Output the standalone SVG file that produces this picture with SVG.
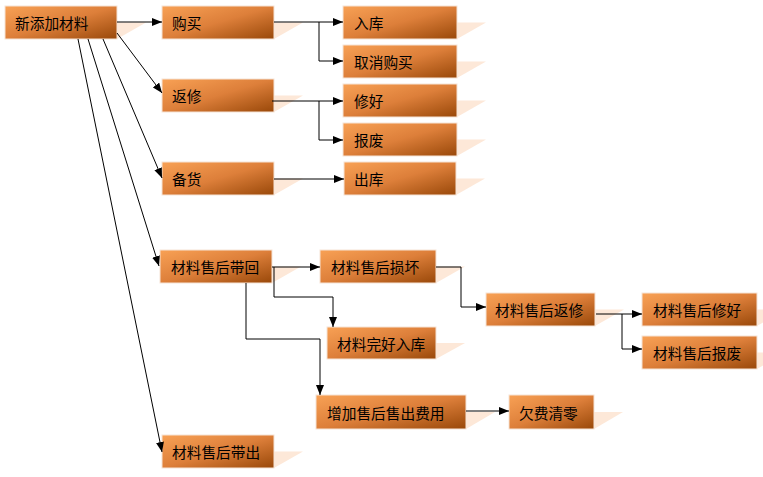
<svg xmlns="http://www.w3.org/2000/svg" width="763" height="477" viewBox="0 0 763 477">
<defs>
<linearGradient id="g" x1="0" y1="0" x2="1" y2="1">
<stop offset="0" stop-color="#F8A155"/>
<stop offset="0.5" stop-color="#DD7F3A"/>
<stop offset="1" stop-color="#994809"/>
</linearGradient>
<marker id="a" markerUnits="userSpaceOnUse" markerWidth="10" markerHeight="8" refX="10" refY="4" orient="auto">
<path d="M0,0 L10,4 L0,8 z" fill="#000"/>
</marker>
<style>
.b{fill:url(#g);stroke:#f6e4d6;stroke-width:1}
.s{fill:#fde8d8}
.t{font-family:"Noto Sans CJK SC","Liberation Sans",sans-serif;font-size:14.7px;fill:#000;dominant-baseline:central}
.c{fill:none;stroke:#000;stroke-width:1}
</style>
</defs>
<rect width="763" height="477" fill="#fff"/>
<g id="n1"><polygon class="s" points="34,22.5 146,22.5 117,39 5,39"/><rect class="b" x="5" y="6" width="112" height="33"/><text class="t" x="15" y="22.5">新添加材料</text></g>
<g id="n2"><polygon class="s" points="191,22.5 303,22.5 274,39 162,39"/><rect class="b" x="162" y="6" width="112" height="33"/><text class="t" x="172" y="22.5">购买</text></g>
<g id="n3"><polygon class="s" points="191,95.5 303,95.5 274,112 162,112"/><rect class="b" x="162" y="79" width="112" height="33"/><text class="t" x="172" y="95.5">返修</text></g>
<g id="n4"><polygon class="s" points="191,178.5 303,178.5 274,195 162,195"/><rect class="b" x="162" y="162" width="112" height="33"/><text class="t" x="172" y="178.5">备货</text></g>
<g id="n5"><polygon class="s" points="372,22.5 486,22.5 457,39 343,39"/><rect class="b" x="343" y="6" width="114" height="33"/><text class="t" x="354" y="22.5">入库</text></g>
<g id="n6"><polygon class="s" points="372,61.5 486,61.5 457,78 343,78"/><rect class="b" x="343" y="45" width="114" height="33"/><text class="t" x="354" y="61.5">取消购买</text></g>
<g id="n7"><polygon class="s" points="372,100.5 486,100.5 457,117 343,117"/><rect class="b" x="343" y="84" width="114" height="33"/><text class="t" x="354" y="100.5">修好</text></g>
<g id="n8"><polygon class="s" points="372,139.5 486,139.5 457,156 343,156"/><rect class="b" x="343" y="123" width="114" height="33"/><text class="t" x="354" y="139.5">报废</text></g>
<g id="n9"><polygon class="s" points="373,178.5 485,178.5 456,195 344,195"/><rect class="b" x="344" y="162" width="112" height="33"/><text class="t" x="354" y="178.5">出库</text></g>
<g id="n10"><polygon class="s" points="189,266.5 301,266.5 272,283 160,283"/><rect class="b" x="160" y="250" width="112" height="33"/><text class="t" x="171" y="266.5">材料售后带回</text></g>
<g id="n11"><polygon class="s" points="349,266.5 465,266.5 436,283 320,283"/><rect class="b" x="320" y="250" width="116" height="33"/><text class="t" x="331" y="266.5">材料售后损坏</text></g>
<g id="n12"><polygon class="s" points="356,343 465,343 436,359 327,359"/><rect class="b" x="327" y="327" width="109" height="32"/><text class="t" x="337" y="343">材料完好入库</text></g>
<g id="n13"><polygon class="s" points="345,412 495,412 466,429 316,429"/><rect class="b" x="316" y="395" width="150" height="34"/><text class="t" x="327" y="412">增加售后售出费用</text></g>
<g id="n14"><polygon class="s" points="538,412 623,412 594,429 509,429"/><rect class="b" x="509" y="395" width="85" height="34"/><text class="t" x="519" y="412">欠费清零</text></g>
<g id="n15"><polygon class="s" points="515,309.5 624,309.5 595,326 486,326"/><rect class="b" x="486" y="293" width="109" height="33"/><text class="t" x="495" y="309.5">材料售后返修</text></g>
<g id="n16"><polygon class="s" points="671,309.5 786,309.5 757,326 642,326"/><rect class="b" x="642" y="293" width="115" height="33"/><text class="t" x="653" y="309.5">材料售后修好</text></g>
<g id="n17"><polygon class="s" points="671,352.5 786,352.5 757,369 642,369"/><rect class="b" x="642" y="336" width="115" height="33"/><text class="t" x="653" y="352.5">材料售后报废</text></g>
<g id="n18"><polygon class="s" points="191,451.5 303,451.5 274,468 162,468"/><rect class="b" x="162" y="435" width="112" height="33"/><text class="t" x="172" y="451.5">材料售后带出</text></g>
<g id="connectors">
<path class="c" marker-end="url(#a)" d="M117,22 H162"/>
<path class="c" marker-end="url(#a)" d="M117,33 L162,93"/>
<path class="c" marker-end="url(#a)" d="M103,39 L162,178"/>
<path class="c" marker-end="url(#a)" d="M88,39 L159,266"/>
<path class="c" marker-end="url(#a)" d="M78,39 L162,452"/>
<path class="c" marker-end="url(#a)" d="M274,22 H343"/>
<path class="c" marker-end="url(#a)" d="M319,22 V61 H343"/>
<path class="c" marker-end="url(#a)" d="M272,101 H343"/>
<path class="c" marker-end="url(#a)" d="M319,101 V140 H343"/>
<path class="c" marker-end="url(#a)" d="M274,179 H344"/>
<path class="c" marker-end="url(#a)" d="M272,267 H320"/>
<path class="c" marker-end="url(#a)" d="M274,267 V297 H333 V327"/>
<path class="c" marker-end="url(#a)" d="M246,283 V339 H320 V395"/>
<path class="c" marker-end="url(#a)" d="M436,267 H461 V307 H486"/>
<path class="c" marker-end="url(#a)" d="M466,411 H509"/>
<path class="c" marker-end="url(#a)" d="M596,314 H642"/>
<path class="c" marker-end="url(#a)" d="M622,314 V349 H642"/>
</g>
</svg>
